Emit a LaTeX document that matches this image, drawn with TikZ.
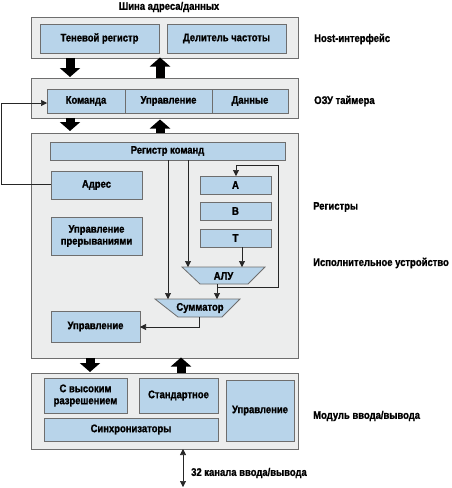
\documentclass[tikz,border=0pt]{standalone}
\usepackage{fontspec}
\setmainfont{Liberation Sans}[FakeStretch=0.86, BoldFeatures={FakeBold=1.2}]
\usetikzlibrary{arrows.meta}
\definecolor{boxblue}{HTML}{B8D4EA}
\definecolor{boxgrey}{HTML}{ECEDED}
\definecolor{edgegrey}{HTML}{6E6E6E}
\tikzset{
  outerbox/.style={draw=edgegrey, line width=1pt, fill=boxgrey, inner sep=0pt, outer sep=0pt},
  inbox/.style={draw=edgegrey, line width=0.8pt, fill=boxblue, inner sep=0pt, outer sep=0pt, align=center, font=\fontsize{11}{12}\selectfont\bfseries},
  lbl/.style={inner sep=0pt, font=\fontsize{11}{12}\selectfont\bfseries},
  trap/.style={draw=edgegrey, line width=0.8pt, fill=boxblue},
  conn/.style={draw=black!85, line width=0.6pt},
  arr/.style={conn, -{Triangle[width=6pt,length=6pt]}},
  darr/.style={conn, {Triangle[width=6pt,length=6pt]}-{Triangle[width=6pt,length=6pt]}},
  bigarrow/.style={line width=9pt, -{Triangle[width=20pt,length=9pt]}},
}
\begin{document}
\begin{tikzpicture}[x=1pt,y=-1pt]
\useasboundingbox (0,0) rectangle (451,488);
% outer boxes
\node[outerbox, minimum width=267pt, minimum height=41pt] (host) at (164.5,37.5) {};
\node[outerbox, minimum width=267pt, minimum height=40pt] (ozu) at (164.5,98) {};
\node[outerbox, minimum width=267pt, minimum height=225pt] (exec) at (164.5,245.5) {};
\node[outerbox, minimum width=267pt, minimum height=76pt] (io) at (164.5,411) {};
% host
\node[inbox, minimum width=119pt, minimum height=29pt] (shadow) at (99.5,38.5) {Теневой регистр};
\node[inbox, minimum width=119pt, minimum height=29pt] (div) at (226.5,38.5) {Делитель частоты};
% ozu
\node[inbox, minimum width=78pt, minimum height=24pt] (kom) at (86,101) {Команда};
\node[inbox, minimum width=87pt, minimum height=24pt] (upr) at (168.5,101) {Управление};
\node[inbox, minimum width=76pt, minimum height=24pt] (dat) at (250,101) {Данные};
% exec
\node[inbox, minimum width=235pt, minimum height=18pt] (rk) at (167.5,151) {Регистр команд};
\node[inbox, minimum width=91pt, minimum height=28pt] (adr) at (96.5,185) {Адрес};
\node[inbox, minimum width=91pt, minimum height=38pt] (irq) at (96.5,236) {Управление\\прерываниями};
\node[inbox, minimum width=71pt, minimum height=18pt] (ra) at (235.5,185) {A};
\node[inbox, minimum width=71pt, minimum height=18pt] (rb) at (235.5,211) {B};
\node[inbox, minimum width=71pt, minimum height=18pt] (rt) at (235.5,238) {T};
\node[inbox, minimum width=89pt, minimum height=31pt] (ctl) at (95.5,326.5) {Управление};
% ALU
\draw[trap] (182,267) -- (265,267) -- (248,284) -- (200,284) -- cycle;
\node[lbl] (alu) at (223.5,276) {АЛУ};
% adder
\draw[trap] (155,299) -- (240,299) -- (222,317) -- (178,317) -- cycle;
\node[lbl] (sum) at (200,308) {Сумматор};
% io
\node[inbox, minimum width=83pt, minimum height=35pt] (hires) at (85.5,395.5) {С высоким\\разрешением};
\node[inbox, minimum width=79pt, minimum height=35pt] (std) at (178.5,395.5) {Стандартное};
\node[inbox, minimum width=68pt, minimum height=61pt] (ioctl) at (260,410.5) {Управление};
\node[inbox, minimum width=174pt, minimum height=23pt] (sync) at (131,429.5) {Синхронизаторы};
% coordinates
\coordinate (alutopA) at (188,267);
\coordinate (alutopB) at (242,267);
\coordinate (alubot) at (217,284);
\coordinate (sumtopA) at (168,299);
\coordinate (sumtopB) at (217,299);
\coordinate (sumbot) at (199,317);
\coordinate (ext) at (183,487);
% thin connectors
\draw[arr] (adr.west |- 0,184) -- (1,184) -- (1,103) -- (kom.west |- 0,103);
\draw[arr] (rk.south -| sumtopA) -- (sumtopA);
\draw[arr] (rk.south -| alutopA) -- (alutopA);
\draw[arr] (rt.south -| alutopB) -- (alutopB);
\draw[arr] (alubot) -- (sumtopB);
\draw[arr] (217,287) -- (278,287) -- (278,165) -- (236,165) -- (ra.north -| 236,0);
\draw[arr] (sumbot) -- (199,327) -- (ctl.east |- 0,327);
\draw[darr] (io.south -| ext) -- (ext);
% big arrows
\draw[bigarrow] (host.south -| 70,0) -- (70,77);
\draw[bigarrow] (ozu.north -| 160,0) -- (160,57.5);
\draw[bigarrow] (ozu.south -| 70,0) -- (70,131);
\draw[bigarrow] (exec.north -| 160,0) -- (160,119.5);
\draw[bigarrow] (exec.south -| 90,0) -- (90,372);
\draw[bigarrow] (io.north -| 181,0) -- (181,357.5);
% labels
\node[lbl] (bus) at (169,7) {Шина адреса/данных};
\node[lbl, anchor=west] (lhost) at (314,39) {Host-интерфейс};
\node[lbl, anchor=west] (lozu) at (314,101) {ОЗУ таймера};
\node[lbl, anchor=west] (lreg) at (313,207) {Регистры};
\node[lbl, anchor=west] (lexec) at (313,263) {Исполнительное устройство};
\node[lbl, anchor=west] (lio) at (313,416) {Модуль ввода/вывода};
\node[lbl, anchor=west] (lch) at (191,473) {32 канала ввода/вывода};
\end{tikzpicture}
\end{document}
